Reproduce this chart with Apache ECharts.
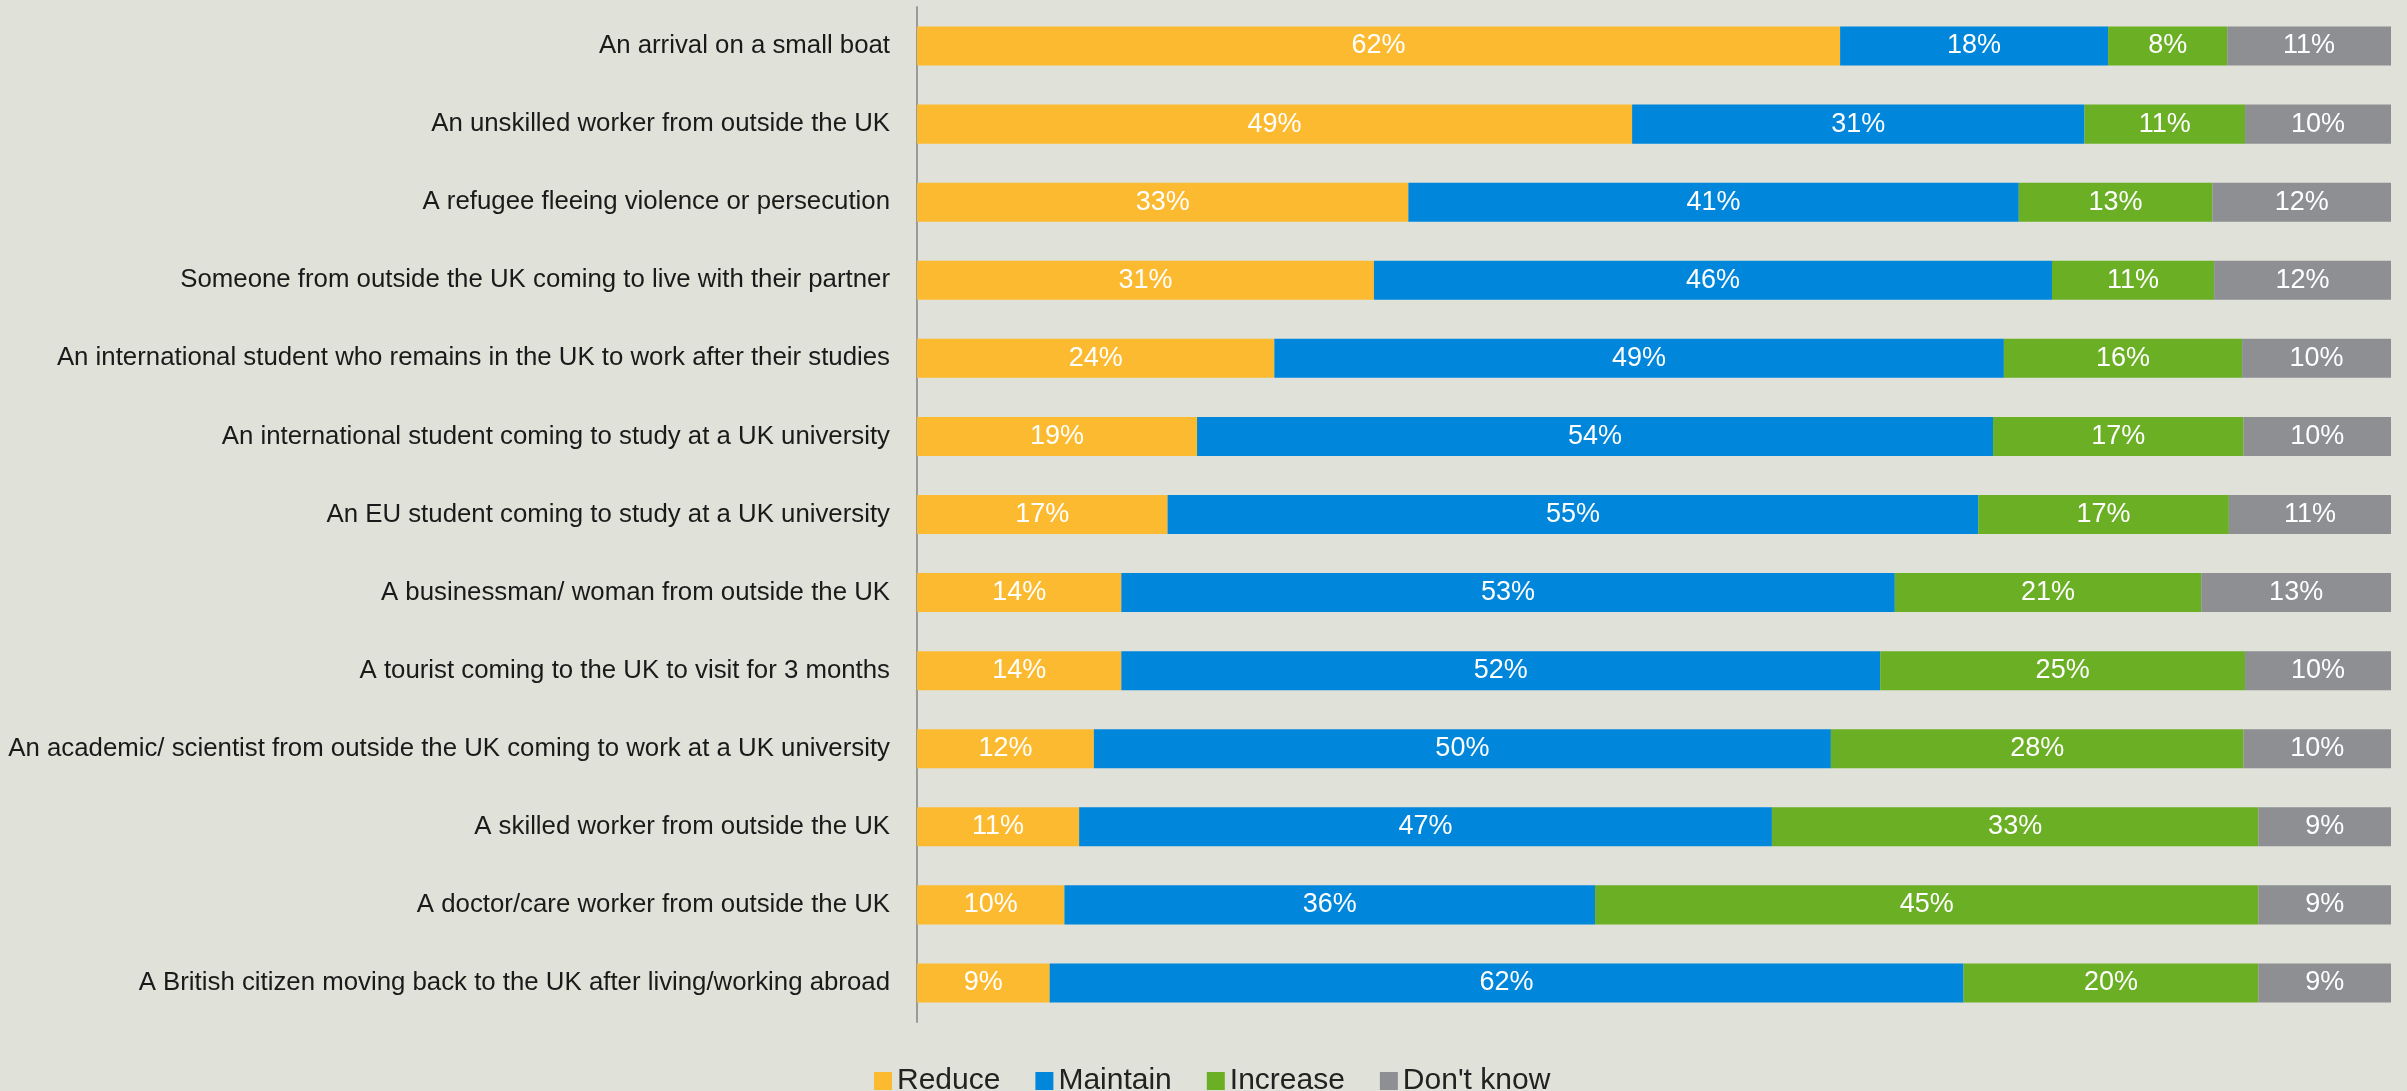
<!DOCTYPE html>
<html>
<head>
<meta charset="utf-8">
</head>
<body style="margin:0; background:#e0e1d9">
<div id="container" style="width:2407px; height:1091px"></div>
<script src="https://cdn.jsdelivr.net/npm/echarts@6/dist/echarts.min.js"></script>
<script>
const categories = [
    'An arrival on a small boat',
    'An unskilled worker from outside the UK',
    'A refugee fleeing violence or persecution',
    'Someone from outside the UK coming to live with their partner',
    'An international student who remains in the UK to work after their studies',
    'An international student coming to study at a UK university',
    'An EU student coming to study at a UK university',
    'A businessman/ woman from outside the UK',
    'A tourist coming to the UK to visit for 3 months',
    'An academic/ scientist from outside the UK coming to work at a UK university',
    'A skilled worker from outside the UK',
    'A doctor/care worker from outside the UK',
    'A British citizen moving back to the UK after living/working abroad'
];
const reduce   = [62, 49, 33, 31, 24, 19, 17, 14, 14, 12, 11, 10, 9];
const maintain = [18, 31, 41, 46, 49, 54, 55, 53, 52, 50, 47, 36, 62];
const increase = [8, 11, 13, 11, 16, 17, 17, 21, 25, 28, 33, 45, 20];
const dontKnow = [11, 10, 12, 12, 10, 10, 11, 13, 10, 10, 9, 9, 9];

const seriesNames = ['Reduce', 'Maintain', 'Increase', "Don't know"];
const colors = ['#fcba31', '#0086da', '#6aaf24', '#8d8f93'];
const raw = [reduce, maintain, increase, dontKnow];

// 100% stacked: each row is scaled so the bar fills the axis
const totals = categories.map((c, i) => raw.reduce((s, arr) => s + arr[i], 0));

var chart = echarts.init(document.getElementById('container'), null, { renderer: 'canvas' });
const font = '"Liberation Sans", Arial, sans-serif';

var option = {
    backgroundColor: '#e0e1d9',
    animation: false,
    color: colors,
    textStyle: { fontFamily: font },
    grid: { left: 917, right: 16, top: 7, bottom: 69 },
    legend: {
        bottom: -10,
        left: 869,
        itemWidth: 18,
        itemHeight: 18,
        itemGap: 35,
        icon: 'rect',
        textStyle: { fontSize: 30, color: '#222', fontFamily: font },
        data: seriesNames
    },
    xAxis: {
        type: 'value',
        min: 0,
        max: 100,
        show: false
    },
    yAxis: {
        type: 'category',
        inverse: true,
        data: categories,
        axisLine: { lineStyle: { color: '#9a9a9a', width: 2 } },
        axisTick: { length: 9, lineStyle: { color: '#9a9a9a', width: 2 } },
        axisLabel: { fontSize: 25.8, color: '#1a1a1a', margin: 27, fontFamily: font }
    },
    series: raw.map((arr, k) => ({
        name: seriesNames[k],
        type: 'bar',
        stack: 'all',
        barWidth: '50%',
        data: arr.map((v, i) => ({ value: v / totals[i] * 100, raw: v })),
        label: {
            show: true,
            position: 'inside',
            color: '#fff',
            fontSize: 27,
            fontFamily: font,
            formatter: p => p.data.raw + '%'
        }
    }))
};

chart.setOption(option);
window.addEventListener('resize', chart.resize);
</script>
</body>
</html>
